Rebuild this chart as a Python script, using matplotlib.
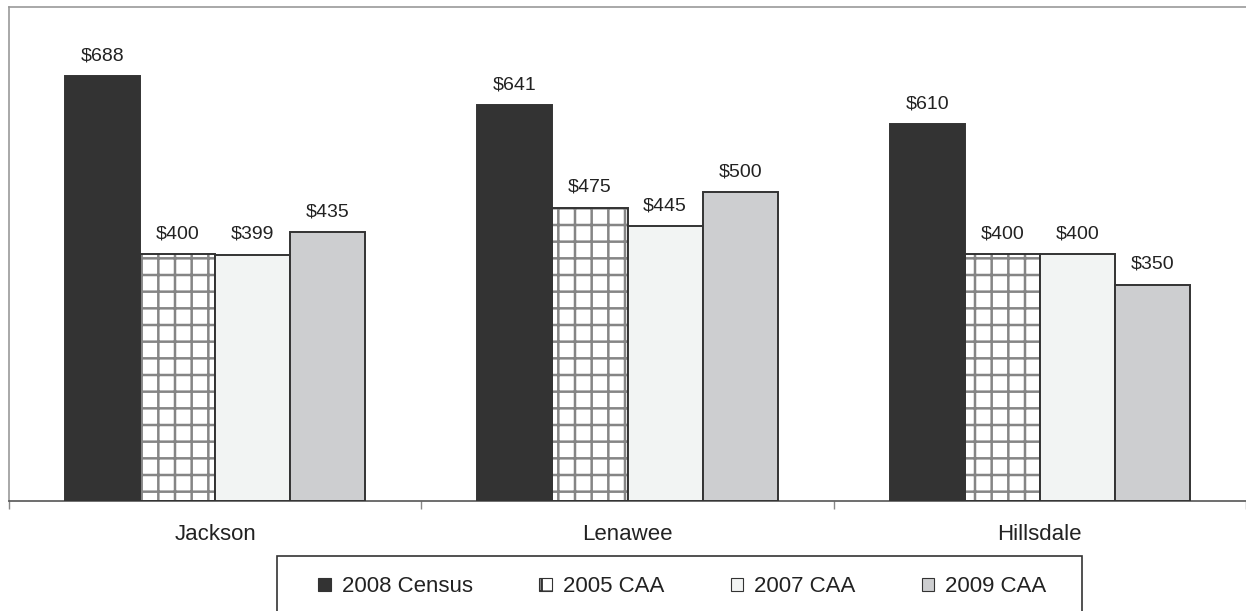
import numpy as np
import matplotlib.pyplot as plt
from matplotlib.patches import Patch, Rectangle

plt.rcParams['font.family'] = ['Liberation Sans', 'DejaVu Sans']
plt.rcParams['hatch.linewidth'] = 1.8

counties = ["Jackson", "Lenawee", "Hillsdale"]
series = ["2008 Census", "2005 CAA", "2007 CAA", "2009 CAA"]
census_2008 = [688, 641, 610]
caa_2005 = [400, 475, 400]
caa_2007 = [399, 445, 400]
caa_2009 = [435, 500, 350]

values = [census_2008, caa_2005, caa_2007, caa_2009]
colors = ['#333333', 'white', '#f2f4f3', '#cdced0']
hatches = [None, '+', None, None]
edge = '#333333'
hatch_grey = '#858585'

W, H = 1246, 611
fig = plt.figure(figsize=(W / 100, H / 100), dpi=100)
ax = fig.add_axes([9 / W, 1 - 501 / H, 1 - 9 / W, (501 - 7) / H])

x = np.arange(len(counties))
w = 0.182
for i, vals in enumerate(values):
    pos = x + (i - 1.5) * w
    if hatches[i]:
        # grey grid first, dark outline on top
        ax.bar(pos, vals, w, color=colors[i], hatch=hatches[i],
               edgecolor=hatch_grey, linewidth=0, zorder=2)
        bars = ax.bar(pos, vals, w, fill=False, edgecolor=edge,
                      linewidth=1.4, zorder=3)
    else:
        bars = ax.bar(pos, vals, w, color=colors[i], edgecolor=edge,
                      linewidth=1.4, zorder=3)
    for b, v in zip(bars, vals):
        ax.annotate("$%d" % v, (b.get_x() + b.get_width() / 2, v),
                    xytext=(0, 11.5), textcoords='offset points',
                    ha='center', va='baseline', fontsize=14, color='#222222')

ax.set_xlim(-0.5, 2.5)
ax.set_ylim(0, 800)
ax.set_yticks([])
ax.set_xticks(x)
ax.set_xticklabels(counties, fontsize=16, color='#222222')
ax.tick_params(axis='x', which='major', length=0, pad=16.5)
ax.set_xticks([-0.5, 0.5, 1.5, 2.5], minor=True)
ax.tick_params(axis='x', which='minor', length=6, color='#888888', width=1)

ax.spines['right'].set_visible(False)
ax.spines['left'].set_color('#999999')
ax.spines['top'].set_color('#999999')
ax.spines['bottom'].set_color('#555555')
for s in ax.spines.values():
    s.set_linewidth(1.2)

# legend box runs off the bottom of the figure
fig.patches.append(Rectangle((277 / W, -0.05), (1082 - 277) / W, 0.05 + 1 - 556 / H,
                             transform=fig.transFigure, fill=False,
                             edgecolor=edge, linewidth=1.2))

handles = [Patch(facecolor=colors[i], edgecolor=edge, hatch=hatches[i], linewidth=0.8)
           for i in range(4)]
leg = fig.legend(handles, series, ncol=4, loc='center',
                 bbox_to_anchor=(682.5 / W, 1 - 587 / H), fontsize=16,
                 handlelength=0.55, handleheight=0.55, handletextpad=0.5,
                 columnspacing=3.0, borderpad=0, borderaxespad=0, frameon=False)
for t in leg.get_texts():
    t.set_color('#222222')

fig.savefig("out.png", dpi=100)
